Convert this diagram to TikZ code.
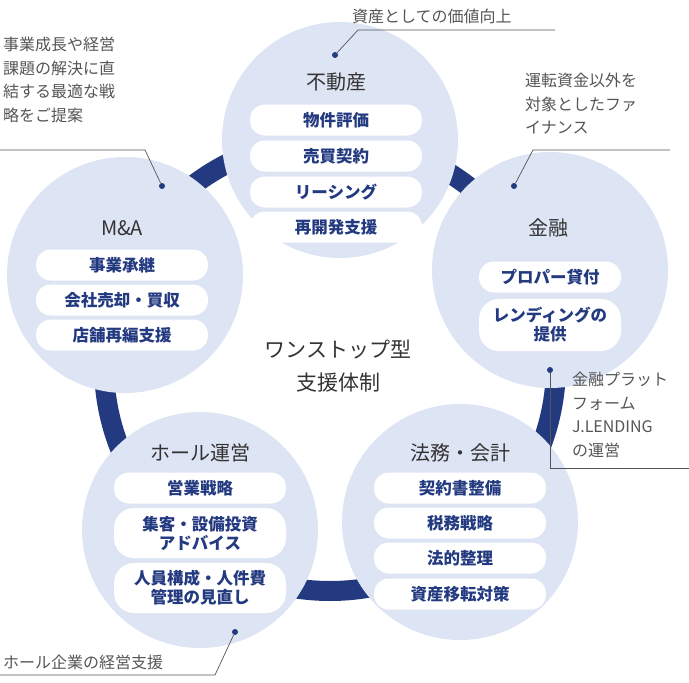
\documentclass[tikz,border=0pt]{standalone}
\usepackage{fontspec}
\setmainfont{Noto Sans CJK JP}
\usetikzlibrary{positioning}
\definecolor{navy}{HTML}{233A80}
\definecolor{lav}{HTML}{DDE4F4}
\definecolor{txt}{HTML}{333333}
\definecolor{note}{HTML}{555555}
\tikzset{
    area/.style={circle, fill=lav, minimum size=236pt, inner sep=0pt},
    title/.style={font=\fontsize{20}{22}\selectfont, text=txt},
    pill/.style={fill=white, rounded corners=15pt, minimum width=172pt, minimum height=31pt,
        align=center, text=navy, font=\fontsize{16.5}{19}\selectfont\bfseries, inner sep=1pt},
    memo/.style={align=left, text=note, font=\fontsize{16}{23.5}\selectfont, inner sep=0pt},
    lead/.style={draw=note, line width=0.7pt},
    dot/.style={circle, fill=navy, inner sep=0pt, minimum size=6pt},
}
\begin{document}
\begin{tikzpicture}[x=1pt, y=-1pt]
    \useasboundingbox (0,0) rectangle (689,683);

    % ring
    \draw[navy, line width=20pt] (330,365) circle (226);

    % areas
    \node[area] (estate) at (340,140) {};
    \node[area] (ma) at (125,275) {};
    \node[area] (fin) at (550,270) {};
    \node[area] (hall) at (200,530) {};
    \node[area] (legal) at (460,522) {};

    % 不動産
    \node[title] (estateT) at (336,82) {不動産};
    \node[pill] (e1) at (336,120) {物件評価};
    \node[pill] (e2) at (336,156) {売買契約};
    \node[pill] (e3) at (336,192) {リーシング};
    \node[pill] (e4) at (336,227) {再開発支援};

    % M&A
    \node[title] (maT) at (122,228) {M\&A};
    \node[pill] (m1) at (122,265) {事業承継};
    \node[pill] (m2) at (122,300) {会社売却・買収};
    \node[pill] (m3) at (122,335) {店舗再編支援};

    % 金融
    \node[title] (finT) at (548,228) {金融};
    \node[pill, minimum width=142pt] (f1) at (550,277) {プロパー貸付};
    \node[pill, minimum width=142pt, minimum height=52pt, rounded corners=20pt] (f2) at (550,325) {レンディングの\\提供};

    % ホール運営
    \node[title] (hallT) at (200,453) {ホール運営};
    \node[pill] (h1) at (200,488) {営業戦略};
    \node[pill, minimum height=50pt, rounded corners=20pt] (h2) at (200,533) {集客・設備投資\\アドバイス};
    \node[pill, minimum height=50pt, rounded corners=20pt] (h3) at (200,588) {人員構成・人件費\\管理の見直し};

    % 法務・会計
    \node[title] (legalT) at (460,453) {法務・会計};
    \node[pill] (l1) at (460,488) {契約書整備};
    \node[pill] (l2) at (460,523) {税務戦略};
    \node[pill] (l3) at (460,558) {法的整理};
    \node[pill] (l4) at (460,594) {資産移転対策};

    % center
    \node[font=\fontsize{21}{33}\selectfont, text=txt, align=center] (core) at (338,366) {ワンストップ型\\支援体制};

    % notes
    \node[memo, anchor=south west] (n1) at (352,24) {資産としての価値向上};
    \coordinate (n1a) at (555,30);
    \coordinate (n1b) at (358,30);
    \node[dot] (d1) at (335,55) {};
    \draw[lead] (n1a) -- (n1b) -- (d1);

    \node[memo, anchor=north west] (n2) at (3,37) {事業成長や経営\\課題の解決に直\\結する最適な戦\\略をご提案};
    \coordinate (n2a) at (0,150);
    \coordinate (n2b) at (145,150);
    \node[dot] (d2) at (162,186) {};
    \draw[lead] (n2a) -- (n2b) -- (d2);

    \node[memo, anchor=north west] (n3) at (525,73) {運転資金以外を\\対象としたファ\\イナンス};
    \coordinate (n3a) at (670,150);
    \coordinate (n3b) at (533,150);
    \node[dot] (d3) at (514,186) {};
    \draw[lead] (n3a) -- (n3b) -- (d3);

    \node[memo, anchor=north west] (n4) at (572,372) {金融プラット\\フォーム\\J.LENDING\\の運営};
    \node[dot] (d4) at (550,370) {};
    \coordinate (n4b) at (550,468);
    \coordinate (n4a) at (689,468);
    \draw[lead] (d4) -- (n4b) -- (n4a);

    \node[memo, anchor=south west] (n5) at (3,670) {ホール企業の経営支援};
    \coordinate (n5a) at (0,675);
    \coordinate (n5b) at (215,675);
    \node[dot] (d5) at (235,632) {};
    \draw[lead] (n5a) -- (n5b) -- (d5);
\end{tikzpicture}
\end{document}
